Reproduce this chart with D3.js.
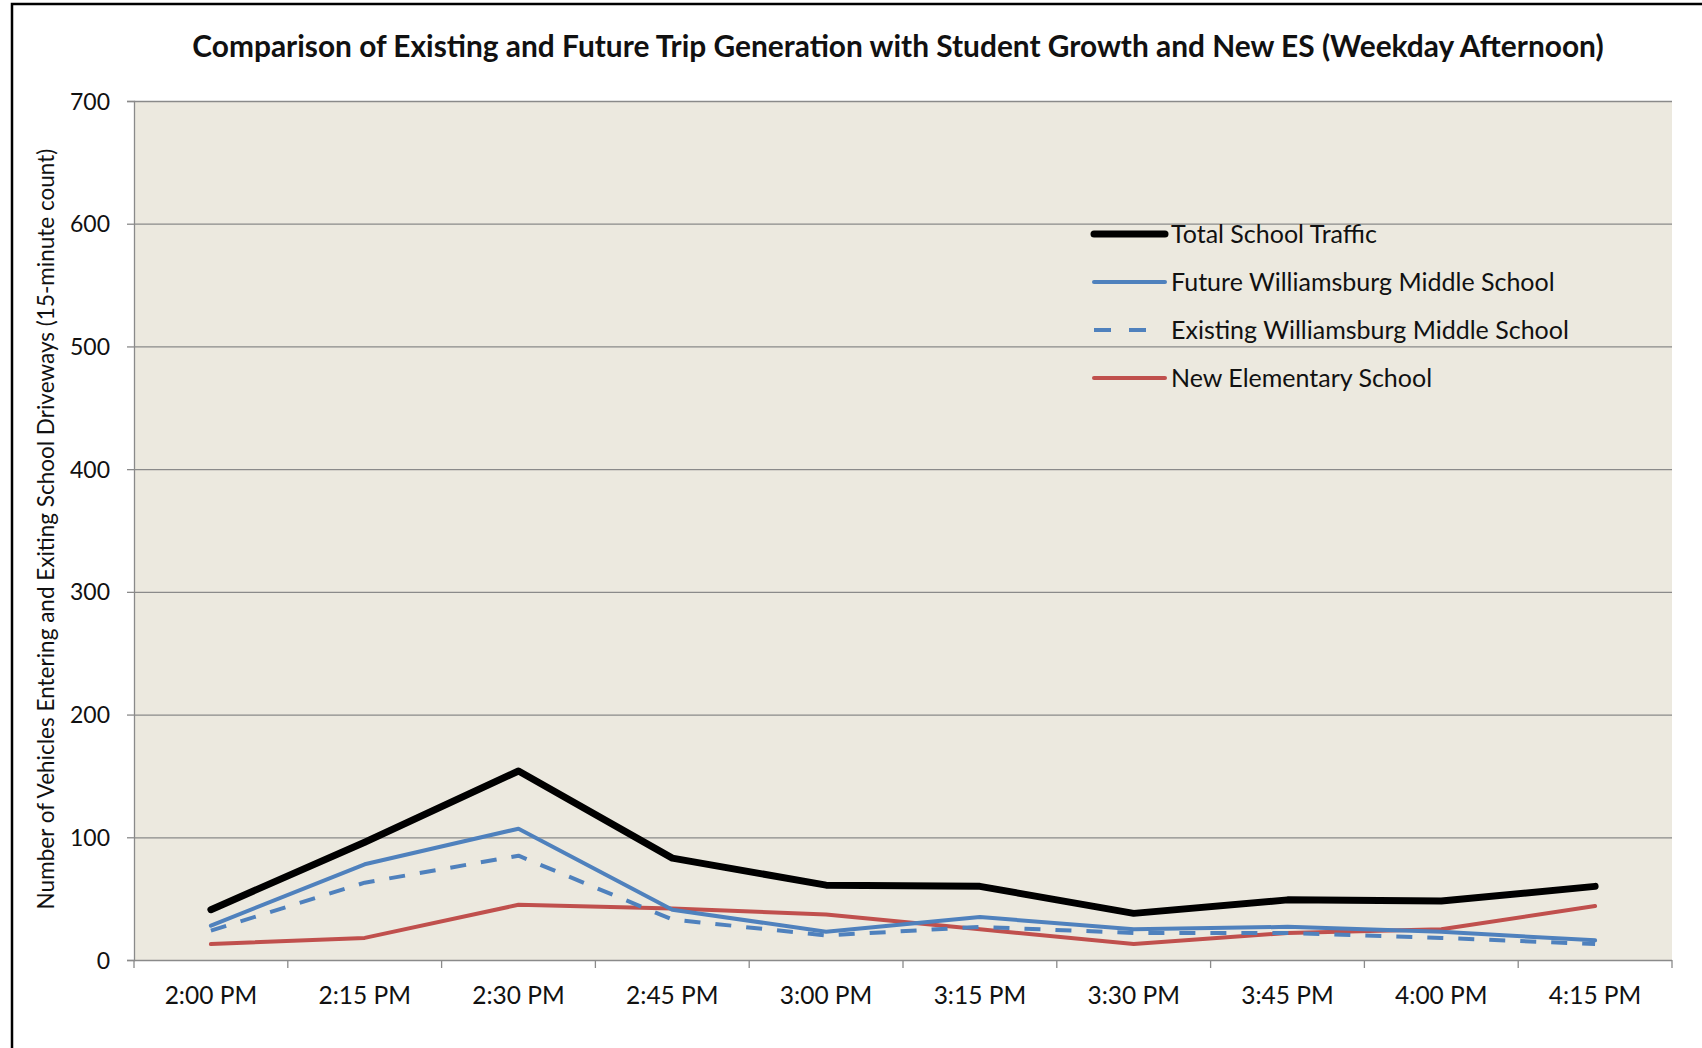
<!DOCTYPE html>
<html>
<head>
<meta charset="utf-8">
<script src="https://cdn.jsdelivr.net/npm/d3@7/dist/d3.min.js"></script>
<style>
  html, body { margin: 0; padding: 0; background: #ffffff; }
  svg { display: block; }
  text { font-family: Lato, "Open Sans", sans-serif; fill: #111; }
</style>
</head>
<body>
<svg id="chart" width="1702" height="1048"></svg>
<script>
// Time slots (15-minute intervals, weekday afternoon)
const categories = ["2:00 PM", "2:15 PM", "2:30 PM", "2:45 PM", "3:00 PM",
                    "3:15 PM", "3:30 PM", "3:45 PM", "4:00 PM", "4:15 PM"];

// Vehicles entering and exiting school driveways per 15 minutes
const totalSchoolTraffic   = [41, 96, 154, 83, 61, 60, 38, 49, 48, 60];
const futureWilliamsburg   = [28, 78, 107, 41, 23, 35, 25, 27, 23, 16];
const existingWilliamsburg = [24, 63, 85, 33, 20, 27, 22, 22, 18, 13];
const newElementary        = [13, 18, 45, 42, 37, 25, 13, 22, 25, 44];

const yTicks = [0, 100, 200, 300, 400, 500, 600, 700];

const seriesNames = ["Total School Traffic", "Future Williamsburg Middle School",
                     "Existing Williamsburg Middle School", "New Elementary School"];

const titleText = "Comparison of Existing and Future Trip Generation with Student Growth and New ES (Weekday Afternoon)";
const yTitleText = "Number of Vehicles Entering and Exiting School Driveways (15-minute count)";

const series = [
  { name: seriesNames[0], values: totalSchoolTraffic,   color: "#000000", width: 7, dash: null },
  { name: seriesNames[1], values: futureWilliamsburg,   color: "#4F81BD", width: 4, dash: null },
  { name: seriesNames[2], values: existingWilliamsburg, color: "#4F81BD", width: 4, dash: "16,15" },
  { name: seriesNames[3], values: newElementary,        color: "#C0504D", width: 4, dash: null }
];

const svg = d3.select("#chart");

// outer frame
svg.append("rect")
  .attr("x", 12).attr("y", 4).attr("width", 1720).attr("height", 1080)
  .attr("fill", "#ffffff").attr("stroke", "#000").attr("stroke-width", 2.5);

const plot = { left: 134, right: 1672, top: 101, bottom: 960 };

const x = d3.scaleBand().domain(categories).range([plot.left, plot.right]).padding(0);
const y = d3.scaleLinear().domain([0, 700]).range([plot.bottom, plot.top]);

// plot area background
svg.append("rect")
  .attr("x", plot.left).attr("y", plot.top)
  .attr("width", plot.right - plot.left).attr("height", plot.bottom - plot.top)
  .attr("fill", "#ECE9DF");

// horizontal gridlines
svg.append("g").selectAll("line").data(yTicks.filter(d => d > 0)).join("line")
  .attr("x1", plot.left).attr("x2", plot.right)
  .attr("y1", d => y(d) + 0.5).attr("y2", d => y(d) + 0.5)
  .attr("stroke", "#8a8a8a").attr("stroke-width", 1.3);

// y axis
const yAxis = d3.axisLeft(y).tickValues(yTicks).tickSize(7).tickPadding(17);
const gy = svg.append("g").attr("transform", `translate(${plot.left},0)`).call(yAxis);
gy.select(".domain").attr("stroke", "#8a8a8a").attr("stroke-width", 1.3);
gy.selectAll(".tick line").attr("stroke", "#8a8a8a").attr("stroke-width", 1.3);
gy.selectAll(".tick text").attr("font-size", 23).attr("fill", "#111")
  .style("font-family", "Lato, sans-serif").attr("dy", "0.35em");

// x axis with ticks between categories
const gx = svg.append("g").attr("transform", `translate(0,${plot.bottom})`);
gx.append("line").attr("x1", plot.left).attr("x2", plot.right)
  .attr("y1", 0.5).attr("y2", 0.5).attr("stroke", "#8a8a8a").attr("stroke-width", 1.3);
const boundaries = categories.map(c => x(c)).concat([x(categories[categories.length - 1]) + x.bandwidth()]);
gx.selectAll("line.tk").data(boundaries).join("line").attr("class", "tk")
  .attr("x1", d => d).attr("x2", d => d).attr("y1", 0).attr("y2", 8)
  .attr("stroke", "#8a8a8a").attr("stroke-width", 1.3);
gx.selectAll("text").data(categories).join("text")
  .attr("x", d => x(d) + x.bandwidth() / 2).attr("y", 44)
  .attr("text-anchor", "middle").attr("font-size", 24.5)
  .text(d => d);

// series lines
const line = d3.line()
  .x((d, i) => x(categories[i]) + x.bandwidth() / 2)
  .y(d => y(d));

const drawOrder = [series[3], series[2], series[1], series[0]];
svg.append("g").selectAll("path").data(drawOrder).join("path")
  .attr("d", s => line(s.values))
  .attr("fill", "none")
  .attr("stroke", s => s.color)
  .attr("stroke-width", s => s.width)
  .attr("stroke-dasharray", s => s.dash)
  .attr("stroke-linejoin", "round")
  .attr("stroke-linecap", s => s.dash ? "butt" : "round");

// legend
const legend = svg.append("g");
series.forEach((s, i) => {
  const ly = 234 + i * 48;
  legend.append("line")
    .attr("x1", 1094).attr("x2", s.dash ? 1147 : 1165)
    .attr("y1", ly).attr("y2", ly)
    .attr("stroke", s.color).attr("stroke-width", s.width)
    .attr("stroke-dasharray", s.dash ? "17,18" : null)
    .attr("stroke-linecap", s.dash ? "butt" : "round");
  legend.append("text")
    .attr("x", 1171).attr("y", ly + 9)
    .attr("font-size", 25)
    .text(s.name);
});

// fit a text element to a target width by adjusting its font size
function fitWidth(sel, target) {
  const fs = parseFloat(sel.attr("font-size"));
  const w = sel.node().getComputedTextLength();
  sel.attr("font-size", (fs * target / w).toFixed(2));
}

// title
const title = svg.append("text")
  .attr("x", 898).attr("y", 57)
  .attr("text-anchor", "middle").attr("font-size", 24).attr("font-weight", "bold")
  .text(titleText);
fitWidth(title, 1412);

// y axis title
const yTitle = svg.append("text")
  .attr("transform", "translate(54,529) rotate(-90)")
  .attr("text-anchor", "middle").attr("font-size", 20)
  .text(yTitleText);
fitWidth(yTitle, 761);
</script>
</body>
</html>
